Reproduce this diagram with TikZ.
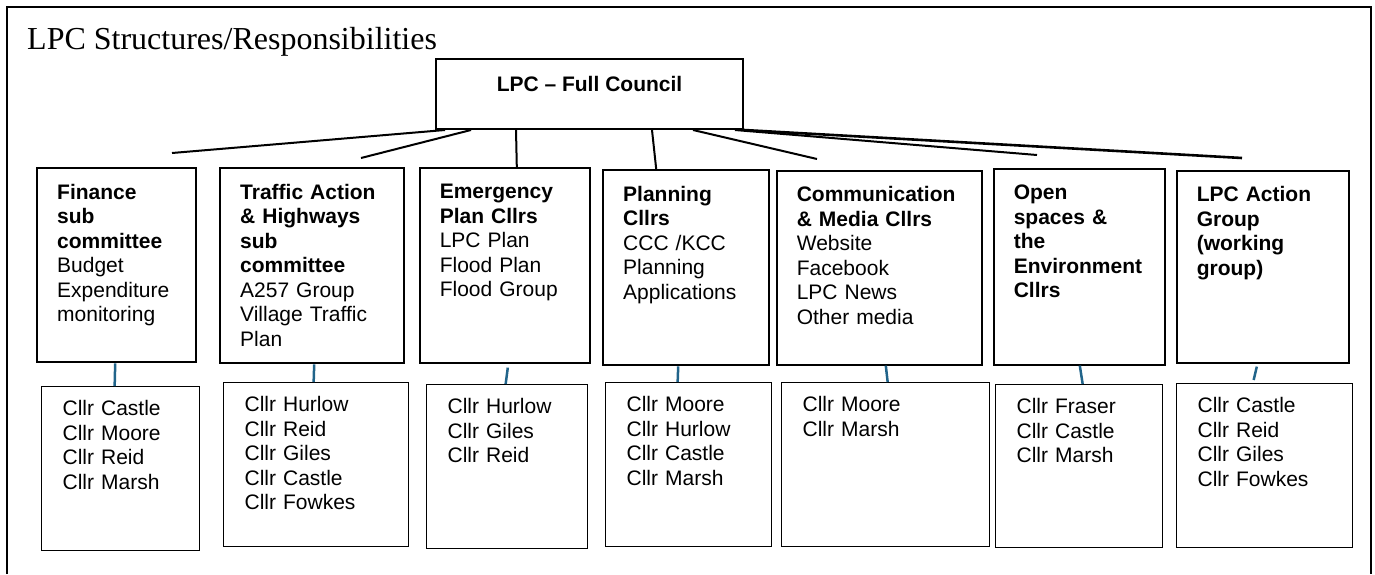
\documentclass[tikz,border=0pt]{standalone}
\usepackage{xcolor}
\usepackage{fontspec}
\setmainfont{Liberation Sans}
\newfontfamily\titlefont{Liberation Serif}
\usepackage{tikz}
\usetikzlibrary{positioning}
\definecolor{tieblue}{RGB}{33,100,138}
\hyphenpenalty=10000
\exhyphenpenalty=10000

\begin{document}
\begin{tikzpicture}[
			x=1pt,y=-1pt,
			every node/.style={inner sep=0pt},
			unitbox/.style={draw,line width=1.6pt,anchor=north west,align=left,inner xsep=20pt,inner ysep=15pt,text height=16pt,font=\fontsize{21}{24.5}\selectfont},
			cllrbox/.style={draw,line width=1.3pt,anchor=north west,align=left,inner xsep=21pt,inner ysep=13pt,text height=16pt,font=\fontsize{21}{24.5}\selectfont},
			feed/.style={line width=2pt},
			tie/.style={tieblue,line width=2.5pt}
			]

			\useasboundingbox (0,0) rectangle (1375,574);
			\draw[line width=1.8pt] (7,574) -- (7,7) -- (1371,7) -- (1371,574);

			\node[anchor=base west,font=\titlefont\fontsize{32}{36}\selectfont] (title) at (27,49) {LPC Structures/Responsibilities};

			\node[draw,line width=2pt,anchor=north west,minimum width=307pt,inner ysep=17pt,text height=15pt,text depth=21pt,font=\fontsize{21}{24.5}\selectfont\bfseries] (council) at (435,58) {LPC -- Full Council};

			\node[unitbox,line width=2.4pt,text width=119pt,text depth=148pt] (fin) at (36,167) {\textbf{Finance}\\\textbf{sub}\\\textbf{committee}\\Budget\\Expenditure\\monitoring};
			\node[unitbox,line width=2.4pt,text width=144pt,text depth=149pt] (tra) at (219,167) {\textbf{Traffic Action}\\\textbf{\& Highways}\\\textbf{sub}\\\textbf{committee}\\A257 Group\\Village Traffic\\Plan};
			\node[unitbox,text width=130pt,text depth=149pt] (eme) at (419,167) {\textbf{Emergency}\\\textbf{Plan Cllrs}\\LPC Plan\\Flood Plan\\Flood Group};
			\node[unitbox,line width=2.4pt,text width=126pt,text depth=149pt] (pla) at (602,169) {\textbf{Planning}\\\textbf{Cllrs}\\CCC /KCC\\Planning\\Applications};
			\node[unitbox,text width=165pt,text depth=148pt] (com) at (776,170) {\textbf{Communication}\\\textbf{\& Media Cllrs}\\Website\\Facebook\\LPC News\\Other media};
			\node[unitbox,text width=131pt,text depth=150pt] (ope) at (993,168) {\textbf{Open}\\\textbf{spaces \&}\\\textbf{the}\\\textbf{Environment}\\\textbf{Cllrs}};
			\node[unitbox,text width=132pt,text depth=146pt] (act) at (1176,170) {\textbf{LPC Action}\\\textbf{Group}\\\textbf{(working}\\\textbf{group)}};

			\node[cllrbox,text width=116pt,text depth=122pt] (low1) at (41,386) {Cllr Castle\\Cllr Moore\\Cllr Reid\\Cllr Marsh};
			\node[cllrbox,text width=143pt,text depth=122pt] (low2) at (223,382) {Cllr Hurlow\\Cllr Reid\\Cllr Giles\\Cllr Castle\\Cllr Fowkes};
			\node[cllrbox,text width=119pt,text depth=122pt] (low3) at (426,384) {Cllr Hurlow\\Cllr Giles\\Cllr Reid};
			\node[cllrbox,text width=124pt,text depth=122pt] (low4) at (605,382) {Cllr Moore\\Cllr Hurlow\\Cllr Castle\\Cllr Marsh};
			\node[cllrbox,text width=166pt,text depth=122pt] (low5) at (781,382) {Cllr Moore\\Cllr Marsh};
			\node[cllrbox,text width=125pt,text depth=121pt] (low6) at (995,384) {Cllr Fraser\\Cllr Castle\\Cllr Marsh};
			\node[cllrbox,text width=134pt,text depth=122pt] (low7) at (1176,383) {Cllr Castle\\Cllr Reid\\Cllr Giles\\Cllr Fowkes};

			\coordinate (end1) at (172,153);
			\coordinate (end2) at (361,158);
			\coordinate (end5) at (817,159);
			\coordinate (end6) at (1037,155);
			\coordinate (end7) at (1242,158);

			\draw[feed] ([xshift=10pt]council.south west) -- (end1);
			\draw[feed] ([xshift=36pt]council.south west) -- (end2);
			\draw[feed] ([xshift=81pt]council.south west) -- ([xshift=12pt]eme.north);
			\draw[feed] ([xshift=217pt]council.south west) -- ([xshift=-30pt]pla.north);
			\draw[feed] ([xshift=258pt]council.south west) -- (end5);
			\draw[feed] ([xshift=300pt]council.south west) -- (end6);
			\draw[feed,line width=2.6pt] (council.south east) -- (end7);

			\draw[tie] ([xshift=-1.5pt]fin.south) -- ([xshift=-6pt]low1.north);
			\draw[tie] ([xshift=2pt]tra.south) -- ([xshift=-2.5pt]low2.north);
			\draw[tie] ([xshift=3pt,yshift=-4pt]eme.south) -- ([xshift=-1.5pt]low3.north);
			\draw[tie] ([xshift=-8pt]pla.south) -- ([xshift=-11pt]low4.north);
			\draw[tie] ([xshift=6.5pt]com.south) -- ([xshift=2pt]low5.north);
			\draw[tie] ([xshift=0.5pt]ope.south) -- ([xshift=3.5pt]low6.north);
			\draw[tie] ([xshift=-6pt,yshift=-3pt]act.south) -- ([xshift=-11pt,yshift=3pt]low7.north);

			\end{tikzpicture}
\end{document}
